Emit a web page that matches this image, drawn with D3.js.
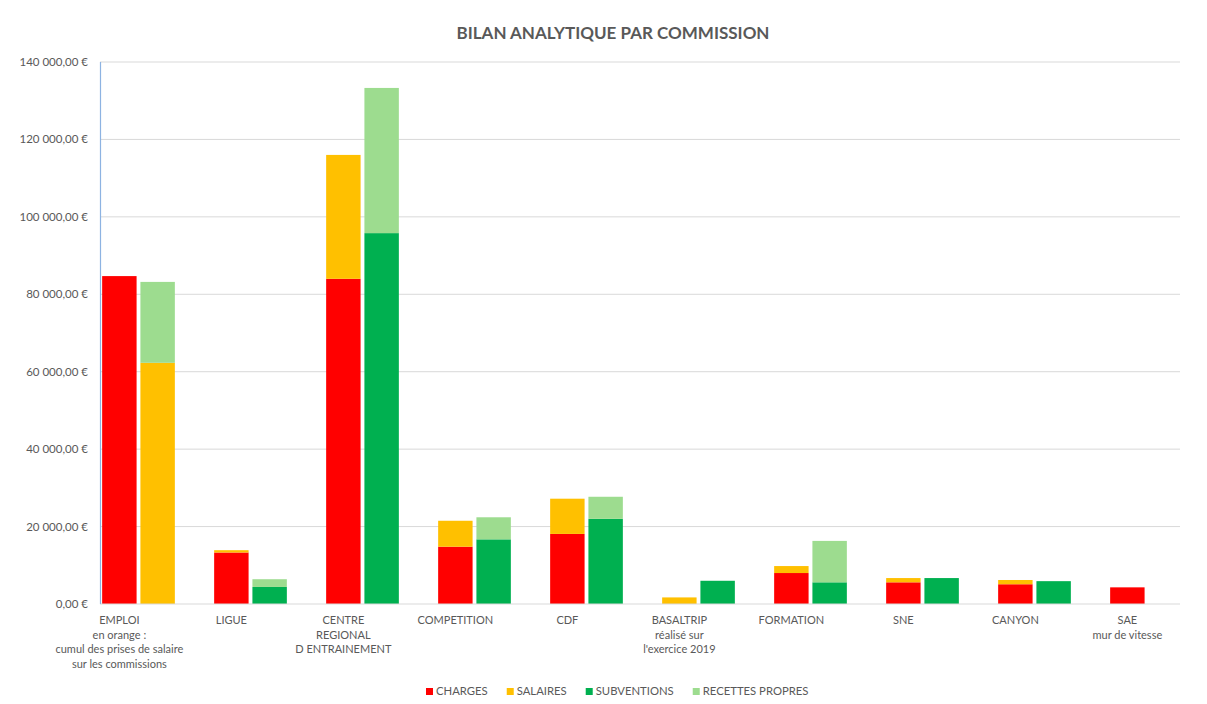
<!DOCTYPE html>
<html>
<head>
<meta charset="utf-8">
<script src="https://cdn.jsdelivr.net/npm/d3@7"></script>
<style>
  body { margin: 0; background: #fff; }
  svg text { font-family: Lato, "Open Sans", sans-serif; fill: #595959; }
</style>
</head>
<body>
<svg width="1207" height="704"></svg>
<script>
// Categories (multi-line tick labels)
var categories = ["EMPLOI", "LIGUE", "CENTRE", "COMPETITION", "CDF", "BASALTRIP", "FORMATION", "SNE", "CANYON", "SAE"];
var categoryLines = [
  ["EMPLOI", "en orange :", "cumul des prises de salaire", "sur les commissions"],
  ["LIGUE"],
  ["CENTRE", "REGIONAL", "D ENTRAINEMENT"],
  ["COMPETITION"],
  ["CDF"],
  ["BASALTRIP", "réalisé sur", "l'exercice 2019"],
  ["FORMATION"],
  ["SNE"],
  ["CANYON"],
  ["SAE", "mur de vitesse"]
];

// left stack
var charges  = [84700, 13300, 84000, 14800, 18100,    0, 8000, 5600, 5100, 4300];
var salaires = [    0,   600, 32000,  6700,  9100, 1700, 1800, 1100, 1100,    0];
// right stack
var subventions    = [    0, 4400, 95800, 16700, 22000, 6000,  5600, 6700, 5900, 0];
var salairesRepris = [62300,    0,     0,     0,     0,    0,     0,    0,    0, 0];
var recettes       = [20900, 2000, 37500,  5700,  5700,    0, 10700,    0,    0, 0];

var yTicks = [0, 20000, 40000, 60000, 80000, 100000, 120000, 140000];

var legendItems = [
  { name: "CHARGES", color: "#FF0000" },
  { name: "SALAIRES", color: "#FFC000" },
  { name: "SUBVENTIONS", color: "#00B050" },
  { name: "RECETTES PROPRES", color: "#9DDC8F" }
];

var colors = {
  charges: "#FF0000", salaires: "#FFC000", salairesRepris: "#FFC000",
  subventions: "#00B050", recettes: "#9DDC8F"
};

var svg = d3.select("svg");

var rows = categories.map(function(c, i) {
  return { cat: c, charges: charges[i], salaires: salaires[i],
           subventions: subventions[i], salairesRepris: salairesRepris[i], recettes: recettes[i] };
});

var x = d3.scaleBand().domain(categories).range([100, 1220]).paddingInner(0).paddingOuter(0);
var inner = d3.scaleBand().domain(["left", "right"]).range([1, 76]).paddingInner(0.1).paddingOuter(0.03);
var y = d3.scaleLinear().domain([0, 140000]).range([604, 62]);

var fr = d3.formatLocale({ decimal: ",", thousands: "\u00a0", grouping: [3], currency: ["", "\u00a0€"] });
var fmt = fr.format("$,.2f");

// title
svg.append("text")
  .attr("x", 613).attr("y", 39)
  .attr("text-anchor", "middle")
  .style("font-size", "17px").style("font-weight", "bold")
  .text("BILAN ANALYTIQUE PAR COMMISSION");

// gridlines
svg.append("g").selectAll("line")
  .data(yTicks.slice(1))
  .join("line")
  .attr("x1", 100).attr("x2", 1180)
  .attr("y1", d => y(d)).attr("y2", d => y(d))
  .attr("stroke", "#D9D9D9").attr("stroke-width", 1);

// y axis labels
svg.append("g").selectAll("text")
  .data(yTicks)
  .join("text")
  .attr("x", 88).attr("y", d => y(d) + 4)
  .attr("text-anchor", "end")
  .style("font-size", "11.5px")
  .text(d => fmt(d));

// stacks
var leftStack = d3.stack().keys(["charges", "salaires"])(rows);
var rightStack = d3.stack().keys(["subventions", "salairesRepris", "recettes"])(rows);

function drawStack(series, side) {
  svg.append("g").selectAll("g")
    .data(series)
    .join("g")
    .attr("fill", d => colors[d.key])
    .selectAll("rect")
    .data(d => d)
    .join("rect")
    .attr("x", d => x(d.data.cat) + inner(side))
    .attr("width", inner.bandwidth())
    .attr("y", d => y(d[1]))
    .attr("height", d => y(d[0]) - y(d[1]));
}
drawStack(leftStack, "left");
drawStack(rightStack, "right");

// baseline and left axis line
svg.append("line")
  .attr("x1", 100).attr("x2", 1180).attr("y1", y(0)).attr("y2", y(0))
  .attr("stroke", "#D9D9D9");
svg.append("line")
  .attr("x1", 100.5).attr("x2", 100.5).attr("y1", y(140000)).attr("y2", y(0))
  .attr("stroke", "#8DB3E2").attr("stroke-width", 1.2);

// x labels, centred under the left bar
var xl = svg.append("g").selectAll("text")
  .data(categories)
  .join("text")
  .attr("text-anchor", "middle")
  .style("font-size", "11px")
  .attr("transform", d => "translate(" + (x(d) + inner("left") + inner.bandwidth() / 2) + ",624)");
xl.selectAll("tspan")
  .data((d, i) => categoryLines[i])
  .join("tspan")
  .attr("x", 0)
  .attr("y", (d, i) => i * 14.5)
  .text(d => d);

// legend
var lg = svg.append("g");
var lx = 426;
legendItems.forEach(function(item) {
  lg.append("rect").attr("x", lx).attr("y", 688).attr("width", 7).attr("height", 7).attr("fill", item.color);
  var t = lg.append("text").attr("x", lx + 10).attr("y", 695).style("font-size", "11.3px").text(item.name);
  lx += 10 + t.node().getComputedTextLength() + 19;
});
</script>
</body>
</html>
